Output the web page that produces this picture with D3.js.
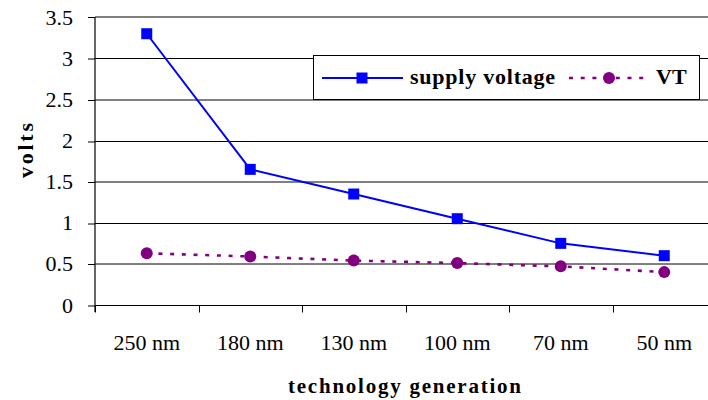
<!DOCTYPE html>
<html>
<head>
<meta charset="utf-8">
<script src="https://cdn.jsdelivr.net/npm/d3@7"></script>
</head>
<body style="margin:0;background:#fff">
<svg id="chart" width="708" height="400" style="display:block"></svg>
<script>
// Technology generations and voltage levels
const categories = ["250 nm", "180 nm", "130 nm", "100 nm", "70 nm", "50 nm"];
const supplyVoltage = [3.3, 1.65, 1.35, 1.05, 0.75, 0.6];
const thresholdVoltage = [0.63, 0.59, 0.54, 0.51, 0.47, 0.4];
const yTicks = [0, 0.5, 1, 1.5, 2, 2.5, 3, 3.5];
const seriesNames = ["supply voltage", "VT"];

const svg = d3.select("#chart");
const W = 708;

const plot = { left: 95, right: 716, top: 17.3, bottom: 305 };

const x = d3.scaleBand().domain(categories).range([plot.left, plot.right]).padding(0);
const y = d3.scaleLinear().domain([0, 3.5]).range([plot.bottom, plot.top]);

function styleText(sel, size, bold) {
  sel.attr("font-family", "Liberation Serif")
     .style("font-family", "'Liberation Serif', 'Times New Roman', serif")
     .style("font-size", size + "px")
     .style("font-weight", bold ? "bold" : "normal")
     .attr("fill", "#000");
  return sel;
}

// Horizontal gridlines (whole volts sit on a pixel row, half volts straddle two)
const gridY = d => Number.isInteger(d) ? Math.round(y(d)) + 0.5 : Math.round(y(d));
svg.append("g")
  .selectAll("line")
  .data(yTicks)
  .join("line")
  .attr("x1", plot.left).attr("x2", W)
  .attr("y1", gridY).attr("y2", gridY)
  .attr("stroke", "#000")
  .attr("stroke-width", 1);

// Y axis
const yAxis = d3.axisLeft(y).tickValues(yTicks).tickSize(7).tickPadding(15)
  .tickFormat(d => String(d));
const gy = svg.append("g").attr("transform", `translate(${plot.left},0)`).call(yAxis);
gy.attr("font-family", "Liberation Serif").attr("font-size", 22);
gy.select(".domain").attr("d", `M0,${plot.top}V${plot.bottom + 7}`)
  .attr("stroke", "#000").attr("stroke-width", 1.2);
gy.selectAll(".tick line").attr("stroke", "#000")
  .attr("transform", d => `translate(0,${gridY(d) - y(d)})`);
styleText(gy.selectAll(".tick text"), 22, false);

// X axis with ticks at category boundaries
const gx = svg.append("g").attr("transform", `translate(0,${Math.round(plot.bottom) + 0.5})`);
gx.append("line").attr("x1", plot.left).attr("x2", W).attr("stroke", "#000");
gx.selectAll("line.tk")
  .data(categories)
  .join("line")
  .attr("class", "tk")
  .attr("x1", d => Math.round(x(d)) + 0.5).attr("x2", d => Math.round(x(d)) + 0.5)
  .attr("y1", 0).attr("y2", 7)
  .attr("stroke", "#000");
styleText(gx.selectAll("text")
  .data(categories)
  .join("text")
  .attr("x", d => x(d) + x.bandwidth() / 2)
  .attr("y", 44)
  .attr("text-anchor", "middle")
  .text(d => d), 22, false);

// Axis titles
styleText(svg.append("text")
  .attr("x", 288)
  .attr("y", 393)
  .attr("textLength", 233)
  .attr("lengthAdjust", "spacing")
  .text("technology generation"), 21, true);

styleText(svg.append("text")
  .attr("transform", "translate(33,178) rotate(-90)")
  .attr("textLength", 55)
  .attr("lengthAdjust", "spacing")
  .text("volts"), 22, true);

const cx = d => x(d) + x.bandwidth() / 2;
const line = d3.line().x(d => cx(d.c)).y(d => y(d.v));

const supplyData = categories.map((c, i) => ({ c, v: supplyVoltage[i] }));
const vtData = categories.map((c, i) => ({ c, v: thresholdVoltage[i] }));

// VT series: dashed purple with circles
svg.append("path")
  .datum(vtData)
  .attr("d", line)
  .attr("fill", "none")
  .attr("stroke", "#800080")
  .attr("stroke-width", 2.6)
  .attr("stroke-dasharray", "4,7.7");
svg.append("g").selectAll("circle")
  .data(vtData)
  .join("circle")
  .attr("cx", d => cx(d.c)).attr("cy", d => y(d.v))
  .attr("r", 6).attr("fill", "#800080");

// Supply voltage series: solid blue with squares
svg.append("path")
  .datum(supplyData)
  .attr("d", line)
  .attr("fill", "none")
  .attr("stroke", "#0000ff")
  .attr("stroke-width", 2);
svg.append("g").selectAll("rect")
  .data(supplyData)
  .join("rect")
  .attr("x", d => cx(d.c) - 5.5).attr("y", d => y(d.v) - 5.5)
  .attr("width", 11).attr("height", 11)
  .attr("fill", "#0000ff");

// Legend
const lg = svg.append("g");
lg.append("rect")
  .attr("x", 313.5).attr("y", 55.5).attr("width", 386).attr("height", 44)
  .attr("fill", "#fff").attr("stroke", "#000");
const ly = 78;
lg.append("line").attr("x1", 322).attr("x2", 403).attr("y1", ly).attr("y2", ly)
  .attr("stroke", "#0000ff").attr("stroke-width", 2);
lg.append("rect").attr("x", 362 - 5.5).attr("y", ly - 5.5).attr("width", 11).attr("height", 11)
  .attr("fill", "#0000ff");
styleText(lg.append("text").attr("x", 410).attr("y", 83.5)
  .attr("textLength", 145).attr("lengthAdjust", "spacing")
  .text(seriesNames[0]), 22, true);
lg.append("line").attr("x1", 569).attr("x2", 650).attr("y1", ly).attr("y2", ly)
  .attr("stroke", "#800080").attr("stroke-width", 2.6).attr("stroke-dasharray", "4,7.7");
lg.append("circle").attr("cx", 609).attr("cy", ly).attr("r", 6).attr("fill", "#800080");
styleText(lg.append("text").attr("x", 656).attr("y", 83.5).text(seriesNames[1]), 22, true);
</script>
</body>
</html>
